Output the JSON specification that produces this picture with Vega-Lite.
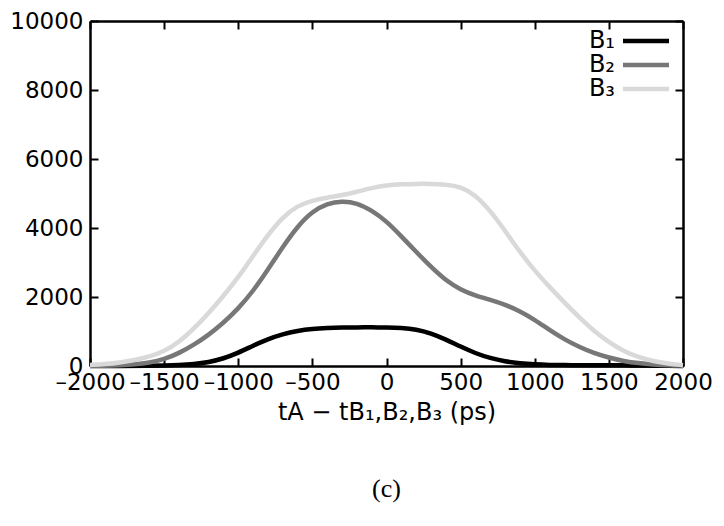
{
  "$schema": "https://vega.github.io/schema/vega-lite/v6.json",
  "width": 593,
  "height": 345,
  "autosize": "none",
  "padding": {"left": 90, "top": 21, "right": 41, "bottom": 160},
  "background": "white",
  "title": {"text": "(c)", "orient": "bottom", "anchor": "middle", "font": "Liberation Serif", "fontSize": 26, "fontWeight": "normal", "color": "black", "offset": 52},
  "config": {
    "view": {"stroke": null},
    "axis": {"grid": false, "domainColor": "black", "domainWidth": 2.5, "tickColor": "black", "tickWidth": 2, "tickSize": -8, "labelColor": "black", "labelFont": "DejaVu Sans", "labelFontSize": 23, "labelFlush": false, "labelOverlap": false, "titleColor": "black", "titleFont": "DejaVu Sans", "titleFontWeight": "normal", "titleFontSize": 24}
  },
  "data": {"values": [
    {"series": "B₁", "t": -2000, "n": 0}, {"series": "B₁", "t": -1800, "n": 3}, {"series": "B₁", "t": -1600, "n": 8}, {"series": "B₁", "t": -1500, "n": 15}, {"series": "B₁", "t": -1400, "n": 28}, {"series": "B₁", "t": -1300, "n": 55}, {"series": "B₁", "t": -1200, "n": 110}, {"series": "B₁", "t": -1100, "n": 215}, {"series": "B₁", "t": -1000, "n": 380}, {"series": "B₁", "t": -900, "n": 590}, {"series": "B₁", "t": -800, "n": 780}, {"series": "B₁", "t": -700, "n": 925}, {"series": "B₁", "t": -600, "n": 1020}, {"series": "B₁", "t": -500, "n": 1075}, {"series": "B₁", "t": -400, "n": 1100}, {"series": "B₁", "t": -300, "n": 1115}, {"series": "B₁", "t": -200, "n": 1120}, {"series": "B₁", "t": -100, "n": 1120}, {"series": "B₁", "t": 0, "n": 1118}, {"series": "B₁", "t": 100, "n": 1105}, {"series": "B₁", "t": 200, "n": 1065}, {"series": "B₁", "t": 300, "n": 950}, {"series": "B₁", "t": 400, "n": 770}, {"series": "B₁", "t": 500, "n": 560}, {"series": "B₁", "t": 600, "n": 370}, {"series": "B₁", "t": 700, "n": 225}, {"series": "B₁", "t": 800, "n": 130}, {"series": "B₁", "t": 900, "n": 75}, {"series": "B₁", "t": 1000, "n": 45}, {"series": "B₁", "t": 1100, "n": 30}, {"series": "B₁", "t": 1200, "n": 25}, {"series": "B₁", "t": 1300, "n": 25}, {"series": "B₁", "t": 1400, "n": 25}, {"series": "B₁", "t": 1500, "n": 25}, {"series": "B₁", "t": 1600, "n": 20}, {"series": "B₁", "t": 1700, "n": 15}, {"series": "B₁", "t": 1800, "n": 10}, {"series": "B₁", "t": 1900, "n": 5}, {"series": "B₁", "t": 2000, "n": 0},
    {"series": "B₂", "t": -2000, "n": 5}, {"series": "B₂", "t": -1900, "n": 10}, {"series": "B₂", "t": -1800, "n": 20}, {"series": "B₂", "t": -1700, "n": 45}, {"series": "B₂", "t": -1600, "n": 95}, {"series": "B₂", "t": -1500, "n": 190}, {"series": "B₂", "t": -1400, "n": 370}, {"series": "B₂", "t": -1300, "n": 610}, {"series": "B₂", "t": -1200, "n": 900}, {"series": "B₂", "t": -1100, "n": 1250}, {"series": "B₂", "t": -1000, "n": 1660}, {"series": "B₂", "t": -900, "n": 2170}, {"series": "B₂", "t": -800, "n": 2790}, {"series": "B₂", "t": -700, "n": 3450}, {"series": "B₂", "t": -600, "n": 4050}, {"series": "B₂", "t": -500, "n": 4480}, {"series": "B₂", "t": -400, "n": 4710}, {"series": "B₂", "t": -300, "n": 4780}, {"series": "B₂", "t": -200, "n": 4730}, {"series": "B₂", "t": -100, "n": 4510}, {"series": "B₂", "t": 0, "n": 4200}, {"series": "B₂", "t": 100, "n": 3760}, {"series": "B₂", "t": 200, "n": 3310}, {"series": "B₂", "t": 300, "n": 2870}, {"series": "B₂", "t": 400, "n": 2480}, {"series": "B₂", "t": 500, "n": 2210}, {"series": "B₂", "t": 600, "n": 2040}, {"series": "B₂", "t": 700, "n": 1920}, {"series": "B₂", "t": 800, "n": 1780}, {"series": "B₂", "t": 900, "n": 1590}, {"series": "B₂", "t": 1000, "n": 1340}, {"series": "B₂", "t": 1100, "n": 1040}, {"series": "B₂", "t": 1200, "n": 770}, {"series": "B₂", "t": 1300, "n": 550}, {"series": "B₂", "t": 1400, "n": 370}, {"series": "B₂", "t": 1500, "n": 240}, {"series": "B₂", "t": 1600, "n": 140}, {"series": "B₂", "t": 1700, "n": 80}, {"series": "B₂", "t": 1800, "n": 45}, {"series": "B₂", "t": 1900, "n": 20}, {"series": "B₂", "t": 2000, "n": 10},
    {"series": "B₃", "t": -2000, "n": 30}, {"series": "B₃", "t": -1900, "n": 55}, {"series": "B₃", "t": -1800, "n": 100}, {"series": "B₃", "t": -1700, "n": 170}, {"series": "B₃", "t": -1600, "n": 270}, {"series": "B₃", "t": -1500, "n": 420}, {"series": "B₃", "t": -1400, "n": 690}, {"series": "B₃", "t": -1300, "n": 1080}, {"series": "B₃", "t": -1200, "n": 1530}, {"series": "B₃", "t": -1100, "n": 2030}, {"series": "B₃", "t": -1000, "n": 2570}, {"series": "B₃", "t": -900, "n": 3190}, {"series": "B₃", "t": -800, "n": 3800}, {"series": "B₃", "t": -700, "n": 4320}, {"series": "B₃", "t": -600, "n": 4650}, {"series": "B₃", "t": -500, "n": 4800}, {"series": "B₃", "t": -400, "n": 4880}, {"series": "B₃", "t": -300, "n": 4950}, {"series": "B₃", "t": -200, "n": 5050}, {"series": "B₃", "t": -100, "n": 5160}, {"series": "B₃", "t": 0, "n": 5240}, {"series": "B₃", "t": 100, "n": 5270}, {"series": "B₃", "t": 200, "n": 5280}, {"series": "B₃", "t": 300, "n": 5280}, {"series": "B₃", "t": 400, "n": 5265}, {"series": "B₃", "t": 500, "n": 5200}, {"series": "B₃", "t": 600, "n": 4960}, {"series": "B₃", "t": 700, "n": 4500}, {"series": "B₃", "t": 800, "n": 3920}, {"series": "B₃", "t": 900, "n": 3300}, {"series": "B₃", "t": 1000, "n": 2760}, {"series": "B₃", "t": 1100, "n": 2290}, {"series": "B₃", "t": 1200, "n": 1840}, {"series": "B₃", "t": 1300, "n": 1410}, {"series": "B₃", "t": 1400, "n": 1010}, {"series": "B₃", "t": 1500, "n": 690}, {"series": "B₃", "t": 1600, "n": 430}, {"series": "B₃", "t": 1700, "n": 250}, {"series": "B₃", "t": 1800, "n": 140}, {"series": "B₃", "t": 1900, "n": 70}, {"series": "B₃", "t": 2000, "n": 25}
  ]},
  "layer": [
    {
      "mark": {"type": "line", "strokeWidth": 4.5, "interpolate": "basis"},
      "encoding": {
        "x": {"field": "t", "type": "quantitative", "scale": {"domain": [-2000, 2000], "nice": false},
          "axis": {"orient": "bottom", "values": [-2000, -1500, -1000, -500, 0, 500, 1000, 1500, 2000], "format": "d", "labelPadding": 13, "labelExpr": "replace(datum.label, '−', '–')", "title": "tA − tB₁,B₂,B₃ (ps)", "titlePadding": 6}},
        "y": {"field": "n", "type": "quantitative", "scale": {"domain": [0, 10000], "nice": false},
          "axis": {"orient": "left", "values": [0, 2000, 4000, 6000, 8000, 10000], "format": "d", "labelPadding": 15, "title": null}},
        "color": {"field": "series", "type": "nominal",
          "scale": {"domain": ["B₁", "B₂", "B₃"], "range": ["#000000", "#777777", "#d9d9d9"]},
          "legend": {"orient": "none", "legendX": 544, "legendY": 8, "title": null, "padding": 0, "symbolType": "M-4.6,0H4.6", "symbolSize": 100, "symbolStrokeWidth": 4.5, "labelAlign": "right", "labelOffset": -43, "labelFont": "DejaVu Sans", "labelFontSize": 24, "labelColor": "black", "rowPadding": -2}}
      }
    },
    {
      "mark": {"type": "line", "opacity": 0},
      "encoding": {
        "x": {"field": "t", "type": "quantitative", "axis": {"orient": "top", "values": [-2000, -1500, -1000, -500, 0, 500, 1000, 1500, 2000], "labels": false, "title": null}},
        "y": {"field": "n", "type": "quantitative", "axis": {"orient": "right", "values": [0, 2000, 4000, 6000, 8000, 10000], "labels": false, "title": null}},
        "detail": {"field": "series"}
      }
    }
  ],
  "resolve": {"axis": {"x": "independent", "y": "independent"}}
}
